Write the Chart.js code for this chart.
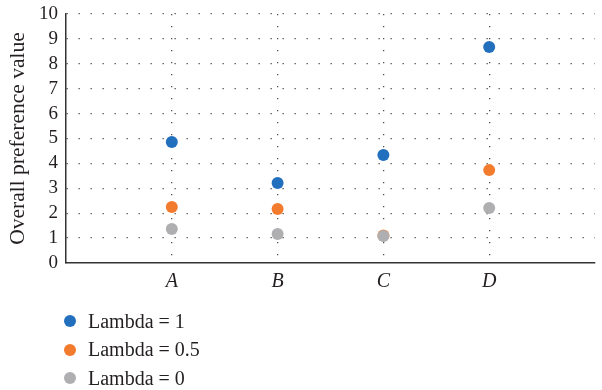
<!DOCTYPE html>
<html lang="en">
<head>
  <meta charset="UTF-8">
  <title>Overall preference value</title>
  <script src="https://cdn.jsdelivr.net/npm/chart.js"></script>
  <style>
    body { margin: 0; background: #fff; }
    .wrap { position: relative; width: 602px; height: 390px; }
    #legend { position: absolute; left: 64px; top: 307px; font-family: "Liberation Serif", serif; font-size: 20px; color: #231f20; }
    #legend div { height: 28.5px; display: flex; align-items: center; }
    #legend span.dot { display: inline-block; width: 12px; height: 12px; border-radius: 50%; margin-right: 12px; }
  </style>
</head>
<body>
  <div class="wrap">
    <canvas id="chart" width="602" height="390"></canvas>
    <div id="legend"></div>
  </div>

  <script>
    // Categories and series
    const categories = ['A', 'B', 'C', 'D'];
    const lambda1 = [4.86, 3.21, 4.34, 8.67];
    const lambda05 = [2.25, 2.17, 1.1, 3.73];
    const lambda0 = [1.37, 1.16, 1.08, 2.21];
    const seriesNames = ['Lambda = 1', 'Lambda = 0.5', 'Lambda = 0'];
    const colors = ['#2270bd', '#f37b2e', '#afafb2'];
    const yTicks = [0, 1, 2, 3, 4, 5, 6, 7, 8, 9, 10];

    const font = "'Liberation Serif', serif";
    const textColor = '#231f20';
    const gridColor = '#505050';

    function toPoints(values) {
      return values.map((v, i) => ({ x: i + 1, y: v }));
    }

    const allSeries = [lambda1, lambda05, lambda0];
    const datasets = allSeries.map((vals, i) => ({
      label: seriesNames[i],
      data: toPoints(vals),
      backgroundColor: colors[i],
      borderColor: colors[i],
      pointRadius: 6,
      pointBorderWidth: 0,
      order: 2 - i // later series drawn on top
    }));

    const chart = new Chart(document.getElementById('chart'), {
      type: 'scatter',
      data: { datasets: datasets },
      options: {
        responsive: false,
        animation: false,
        layout: { autoPadding: false, padding: { left: 0, right: 0, top: 0, bottom: 100 } },
        plugins: { legend: { display: false }, tooltip: { enabled: false } },
        scales: {
          x: {
            type: 'linear',
            min: 0,
            max: categories.length + 1,
            afterFit: scale => { scale.height = 27; },
            afterBuildTicks: scale => {
              scale.ticks = [0, 1, 2, 3, 4, 5].map(v => ({ value: v }));
            },
            ticks: {
              autoSkip: false,
              maxRotation: 0,
              padding: 7,
              color: textColor,
              font: { family: font, size: 20, style: 'italic' },
              callback: v => categories[v - 1] || ''
            },
            grid: {
              drawTicks: false,
              lineWidth: 1.3,
              color: ctx => (ctx.tick && ctx.tick.value >= 1 && ctx.tick.value <= categories.length) ? gridColor : 'rgba(0,0,0,0)'
            },
            border: { display: true, color: '#333', width: 1.5, dash: [1.3, 10.7] }
          },
          y: {
            min: 0,
            max: 10,
            afterFit: scale => {
              scale.width = 66;
              scale.paddingTop = 14;
              scale.paddingBottom = 0;
            },
            afterBuildTicks: scale => {
              scale.ticks = yTicks.map(v => ({ value: v }));
            },
            ticks: {
              autoSkip: false,
              padding: 8,
              color: textColor,
              font: { family: font, size: 19 }
            },
            title: {
              display: true,
              text: 'Overall preference value',
              color: textColor,
              font: { family: font, size: 21.5 },
              padding: { top: 5, bottom: 0 }
            },
            grid: {
              drawTicks: false,
              lineWidth: 1.3,
              color: ctx => (ctx.tick && ctx.tick.value > 0) ? gridColor : 'rgba(0,0,0,0)'
            },
            border: { display: true, color: '#333', width: 1.5, dash: [1.3, 10.7] }
          }
        }
      }
    });

    // HTML legend listed vertically, as in the original
    const legend = document.getElementById('legend');
    chart.data.datasets.forEach(ds => {
      const row = document.createElement('div');
      row.innerHTML = `<span class="dot" style="background:${ds.backgroundColor}"></span>${ds.label}`;
      legend.appendChild(row);
    });
  </script>
</body>
</html>
